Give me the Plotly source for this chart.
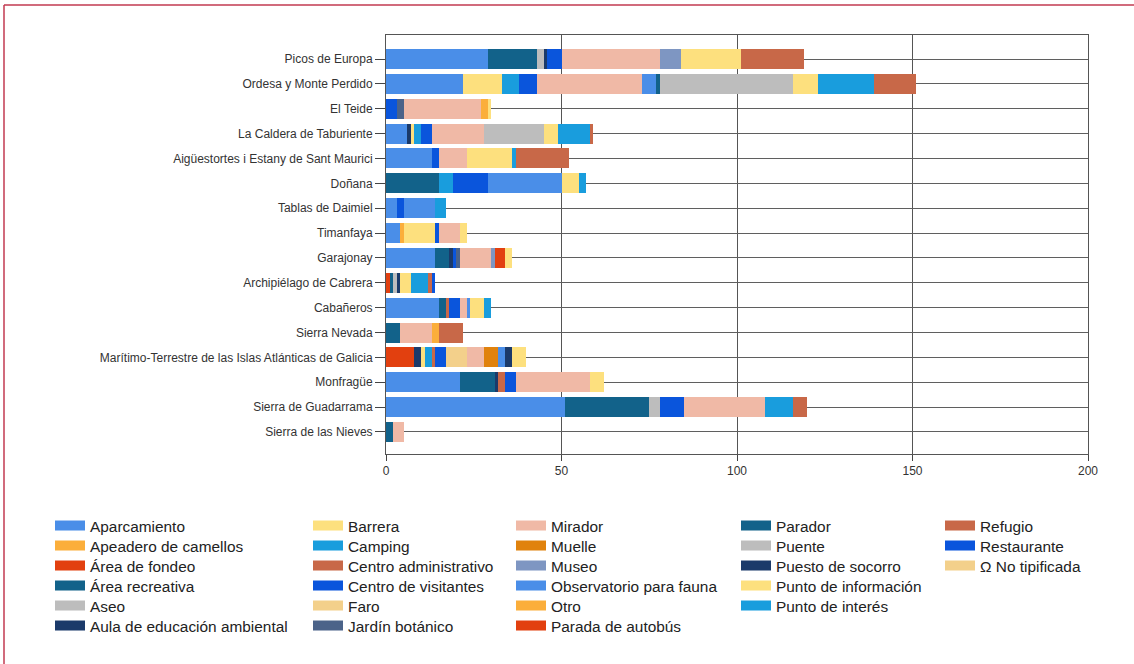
import plotly.graph_objects as go

# ---------------- data ----------------
parks = [
    "Picos de Europa",
    "Ordesa y Monte Perdido",
    "El Teide",
    "La Caldera de Taburiente",
    "Aigüestortes i Estany de Sant Maurici",
    "Doñana",
    "Tablas de Daimiel",
    "Timanfaya",
    "Garajonay",
    "Archipiélago de Cabrera",
    "Cabañeros",
    "Sierra Nevada",
    "Marítimo-Terrestre de las Islas Atlánticas de Galicia",
    "Monfragüe",
    "Sierra de Guadarrama",
    "Sierra de las Nieves",
]

#                      Pic Ord Tei Cal Aig Doñ Tab Tim Gar Cab Cañ SNe Mar Mon Gua Nie
aparcamiento         = [29, 22, 0, 6, 13, 0, 3, 4, 14, 0, 15, 0, 0, 21, 51, 0]
apeadero_camellos    = [0, 0, 0, 0, 0, 0, 0, 1, 0, 0, 0, 0, 0, 0, 0, 0]
area_fondeo          = [0, 0, 0, 0, 0, 0, 0, 0, 0, 1, 0, 0, 8, 0, 0, 0]
area_recreativa      = [14, 0, 0, 0, 0, 15, 0, 0, 4, 1, 2, 4, 0, 10, 24, 2]
aseo                 = [2, 0, 0, 0, 0, 0, 0, 0, 0, 1, 0, 0, 0, 0, 3, 0]
aula_educacion       = [1, 0, 0, 1, 0, 0, 0, 0, 1, 1, 0, 0, 2, 1, 0, 0]
barrera              = [0, 11, 0, 1, 0, 0, 0, 9, 0, 3, 0, 0, 1, 0, 0, 0]
camping              = [0, 5, 0, 2, 0, 4, 0, 0, 0, 5, 0, 0, 2, 0, 0, 0]
centro_admin         = [0, 0, 0, 0, 0, 0, 0, 0, 0, 1, 1, 0, 1, 2, 0, 0]
centro_visitantes    = [4, 5, 3, 3, 2, 10, 2, 1, 1, 1, 3, 0, 3, 3, 7, 0]
faro                 = [0, 0, 0, 0, 0, 0, 0, 0, 0, 0, 0, 0, 6, 0, 0, 0]
jardin_botanico      = [0, 0, 2, 0, 0, 0, 0, 0, 1, 0, 0, 0, 0, 0, 0, 0]
mirador              = [28, 30, 22, 15, 8, 0, 0, 6, 9, 0, 2, 9, 5, 21, 23, 3]
muelle               = [0, 0, 0, 0, 0, 0, 0, 0, 0, 0, 0, 0, 4, 0, 0, 0]
museo                = [6, 0, 0, 0, 0, 0, 0, 0, 1, 0, 0, 0, 0, 0, 0, 0]
observatorio_fauna   = [0, 4, 0, 0, 0, 21, 9, 0, 0, 0, 1, 0, 2, 0, 0, 0]
otro                 = [0, 0, 2, 0, 0, 0, 0, 0, 0, 0, 0, 2, 0, 0, 0, 0]
parada_autobus       = [0, 0, 0, 0, 0, 0, 0, 0, 3, 0, 0, 0, 0, 0, 0, 0]
parador              = [0, 1, 0, 0, 0, 0, 0, 0, 0, 0, 0, 0, 0, 0, 0, 0]
puente               = [0, 38, 0, 17, 0, 0, 0, 0, 0, 0, 0, 0, 0, 0, 0, 0]
puesto_socorro       = [0, 0, 0, 0, 0, 0, 0, 0, 0, 0, 0, 0, 2, 0, 0, 0]
punto_informacion    = [17, 7, 1, 4, 13, 5, 0, 2, 2, 0, 4, 0, 4, 4, 0, 0]
punto_interes        = [0, 16, 0, 9, 1, 2, 3, 0, 0, 0, 2, 0, 0, 0, 8, 0]
refugio              = [18, 12, 0, 1, 15, 0, 0, 0, 0, 0, 0, 7, 0, 0, 4, 0]
restaurante          = [0, 0, 0, 0, 0, 0, 0, 0, 0, 0, 0, 0, 0, 0, 0, 0]
no_tipificada        = [0, 0, 0, 0, 0, 0, 0, 0, 0, 0, 0, 0, 0, 0, 0, 0]

series_names = [
    "Aparcamiento", "Apeadero de camellos", "Área de fondeo", "Área recreativa",
    "Aseo", "Aula de educación ambiental", "Barrera", "Camping",
    "Centro administrativo", "Centro de visitantes", "Faro", "Jardín botánico",
    "Mirador", "Muelle", "Museo", "Observatorio para fauna", "Otro",
    "Parada de autobús", "Parador", "Puente", "Puesto de socorro",
    "Punto de información", "Punto de interés", "Refugio", "Restaurante",
    "Ω No tipificada",
]
series_values = [
    aparcamiento, apeadero_camellos, area_fondeo, area_recreativa, aseo,
    aula_educacion, barrera, camping, centro_admin, centro_visitantes, faro,
    jardin_botanico, mirador, muelle, museo, observatorio_fauna, otro,
    parada_autobus, parador, puente, puesto_socorro, punto_informacion,
    punto_interes, refugio, restaurante, no_tipificada,
]

x_ticks = [0, 50, 100, 150, 200]

# ---------------- style ----------------
palette = [
    "#4a8ee8", "#fbae3b", "#e2400f", "#12628a", "#bdbdbd", "#1b3a6a",
    "#fde07e", "#199ddd", "#c86848", "#0a55dc", "#f3d08b", "#4b6389",
    "#f0b9a6", "#e0820d", "#7e96c2",
]
colors = palette + palette[:11]

# legend layout: items per column, column swatch left edge (px), row centres (px)
legend_counts = [6, 6, 6, 5, 3]
legend_col_px = [55, 313, 516, 741, 945]
legend_row0_px = 526
legend_row_step = 20

W, H = 1134, 664
ML, MR, MT, MB = 386, 46, 35, 210

fig = go.Figure()

for name, vals, col in zip(series_names, series_values, colors):
    fig.add_trace(go.Bar(
        y=parks, x=vals, name=name, orientation="h",
        marker=dict(color=col, line=dict(width=0)),
        legendgroup=name, showlegend=False,
    ))

legend_font = dict(family="Liberation Sans, Arial, sans-serif", size=15.4, color="#222222")
legend_layouts = {}
idx = 0
for ci, cnt in enumerate(legend_counts):
    for ri in range(cnt):
        key = "legend" if idx == 0 else f"legend{idx + 1}"
        fig.add_trace(go.Scatter(
            x=[None], y=[None], mode="lines", name=series_names[idx],
            line=dict(color=colors[idx], width=10),
            legendgroup=series_names[idx], legend=key, showlegend=True,
            hoverinfo="skip",
        ))
        legend_layouts[key] = dict(
            x=(legend_col_px[ci] - 5) / W,
            y=1 - (legend_row0_px + ri * legend_row_step) / H,
            xref="container", yref="container",
            xanchor="left", yanchor="middle",
            orientation="v", font=legend_font,
            bgcolor="rgba(0,0,0,0)", borderwidth=0,
            itemclick=False, itemdoubleclick=False,
        )
        idx += 1

pw = W - ML - MR
ph = H - MT - MB

def px_to_paper_x(px):
    return (px - ML) / pw

def py_to_paper_y(py):
    return (H - MB - py) / ph

frame_color = "#c23a50"
shapes = [
    dict(type="line", xref="paper", yref="paper",
         x0=px_to_paper_x(4), x1=px_to_paper_x(1140),
         y0=py_to_paper_y(5), y1=py_to_paper_y(5),
         line=dict(color=frame_color, width=1.5)),
    dict(type="line", xref="paper", yref="paper",
         x0=px_to_paper_x(4), x1=px_to_paper_x(4),
         y0=py_to_paper_y(5), y1=py_to_paper_y(670),
         line=dict(color=frame_color, width=1.5)),
]

fig.update_layout(
    width=W, height=H,
    margin=dict(l=ML, r=MR, t=MT, b=MB, pad=0, autoexpand=False),
    barmode="stack", bargap=0.196,
    paper_bgcolor="white", plot_bgcolor="white",
    font=dict(family="Liberation Sans, Arial, sans-serif", color="#333333"),
    shapes=shapes,
    hovermode=False,
    **legend_layouts,
)

fig.update_xaxes(
    range=[0, 200], tickvals=x_ticks, ticktext=[str(v) for v in x_ticks],
    showgrid=True, gridcolor="#555555", gridwidth=1,
    zeroline=False, automargin=False,
    showline=True, linecolor="#555555", linewidth=1, mirror=True,
    ticks="outside", ticklen=6, tickcolor="#444444", tickwidth=1,
    tickfont=dict(family="Liberation Sans Narrow, Arial Narrow, Liberation Sans, sans-serif",
                  size=12, color="#333333"),
    fixedrange=True,
)
# category axis with extra padding above the first and below the last park
fig.update_yaxes(
    type="category", categoryorder="array", categoryarray=parks,
    range=[len(parks) - 1 + 0.885, -0.965], automargin=False,
    showgrid=True, gridcolor="#5f5f5f", gridwidth=1.4,
    showline=True, linecolor="#555555", linewidth=1, mirror=True,
    ticks="outside", ticklen=10, tickcolor="#444444", tickwidth=1,
    tickfont=dict(family="Liberation Sans, Arial, sans-serif", size=12, color="#333333"),
    fixedrange=True,
)

fig.write_html(
    "out.html",
    config={"displayModeBar": False},
    post_script="document.body.style.margin='0';document.body.style.overflow='hidden';",
)
